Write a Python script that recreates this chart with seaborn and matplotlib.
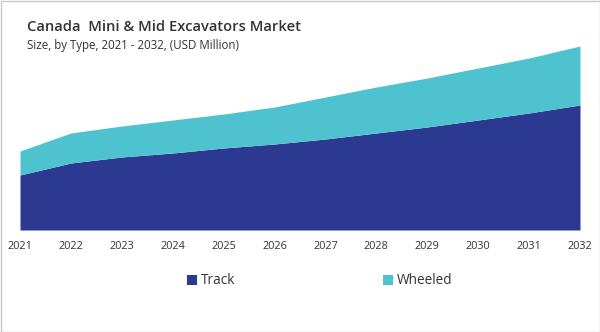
import matplotlib
matplotlib.use("Agg")
import matplotlib.pyplot as plt
import seaborn as sns
import pandas as pd
from matplotlib.patches import Patch, Rectangle

years = [2021, 2022, 2023, 2024, 2025, 2026, 2027, 2028, 2029, 2030, 2031, 2032]
track = [55, 67, 73, 77, 82, 86, 91, 97, 103, 110, 117, 125]
wheeled = [24, 30, 31, 33, 34, 37, 42, 46, 49, 52, 55, 59]
series_names = ["Track", "Wheeled"]
colors = ["#2B3990", "#4EC3CF"]

df = pd.DataFrame({"Year": years, "Track": track, "Wheeled": wheeled})

sns.set_theme(style="white")
plt.rcParams['font.family'] = ['Open Sans', 'DejaVu Sans']

fig = plt.figure(figsize=(6.0, 3.32), dpi=100)
ax = fig.add_axes([20/600, (332-230)/332, 560/600, 190/332])
ax.stackplot(df["Year"], df["Track"], df["Wheeled"], colors=colors, labels=series_names, linewidth=0)
ax.set_xlim(2021, 2032)
ax.set_ylim(0, 190)
ax.set_xticks(years)
ax.set_xticklabels([str(y) for y in years], fontsize=7.8, color="#333333")
ax.tick_params(axis="x", length=0, pad=8)
ax.set_yticks([])
for s in ax.spines.values():
    s.set_visible(False)

fig.text(27/600, 1 - 27/332, "Canada  Mini & Mid Excavators Market", fontsize=10.6, fontweight="semibold",
         color="#333333", va="center", ha="left")
fig.text(27/600, 1 - 45/332, "Size, by Type, 2021 - 2032, (USD Million)", fontsize=8.3,
         color="#333333", va="center", ha="left")

handles = [Patch(facecolor=c, edgecolor="none") for c in colors]
fig.legend(handles, series_names, loc="center", bbox_to_anchor=(0.533, 1 - 281/332), ncol=2,
           frameon=False, fontsize=9.8, handlelength=0.75, handleheight=0.75, handletextpad=0.3,
           columnspacing=10.8, labelcolor="#333333")

fig.patches.append(Rectangle((0.5/600, 0.5/332), 599/600, 331/332, transform=fig.transFigure,
                             fill=False, edgecolor="#c8c8c8", linewidth=1))

fig.savefig("out.png", dpi=100)
